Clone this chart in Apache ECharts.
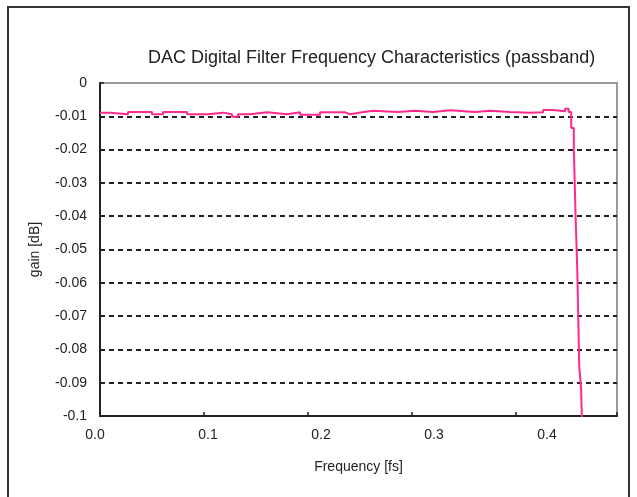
<!DOCTYPE html>
<html>
<head>
  <meta charset="UTF-8">
  <title>DAC Digital Filter Frequency Characteristics (passband)</title>
  <script src="https://cdn.jsdelivr.net/npm/echarts@6/dist/echarts.min.js"></script>
  <style>
    html, body { margin: 0; padding: 0; background: #fff; overflow: hidden; }
    #chart { width: 637px; height: 497px; }
  </style>
</head>
<body>
<div id="chart"></div>
<script>
  // passband staircase (step holds until next point)
  var freq = [0, 0.0096, 0.0269, 0.05, 0.0606, 0.0837, 0.1038, 0.1183, 0.1269, 0.1327,
    0.1442, 0.1606, 0.1798, 0.1923, 0.2115, 0.2356, 0.2404, 0.2519, 0.2625, 0.2865,
    0.3029, 0.3202, 0.3365, 0.3606, 0.375, 0.3942, 0.4135, 0.426, 0.4356, 0.4471,
    0.4505, 0.4530, 0.4555, 0.4572, 0.4588, 0.4607, 0.4625, 0.4640];
  var gain = [-0.0089, -0.0094, -0.0087, -0.0094, -0.0087, -0.0094, -0.0089, -0.0094, -0.0101, -0.0094,
    -0.0088, -0.0094, -0.0088, -0.0095, -0.0088, -0.0094, -0.0088, -0.0083, -0.0087, -0.0083,
    -0.0087, -0.0082, -0.0087, -0.0083, -0.0087, -0.0089, -0.0088, -0.0081, -0.0085, -0.0077,
    -0.0087, -0.0135, -0.0200, -0.0400, -0.0560, -0.0850, -0.0920, -0.1100];
  var xTicks = [0, 0.1, 0.2, 0.3, 0.4];

  var points = freq.map(function (f, i) { return [f, gain[i]]; });

  var myChart = echarts.init(document.getElementById('chart'));
  var font = 'Liberation Sans, Arial, sans-serif';

  var option = {
    backgroundColor: '#ffffff',
    animation: false,
    title: {
      text: 'DAC Digital Filter Frequency Characteristics (passband)',
      left: 143,
      top: 44,
      textStyle: { fontSize: 18, fontWeight: 'normal', color: '#222', fontFamily: font }
    },
    graphic: [{
      type: 'rect',
      shape: { x: 8, y: 7, width: 621, height: 510 },
      style: { fill: 'none', stroke: '#333', lineWidth: 2 },
      silent: true
    }],
    grid: [
      { left: 100, right: 20, top: 83, bottom: 81, show: true, borderColor: '#9a9a9a', borderWidth: 2 },
      // second grid only carries the shifted tick labels of the original
      { left: 95, right: 20, top: 83, bottom: 81, show: false }
    ],
    xAxis: [
      {
        type: 'value', gridIndex: 0, min: 0, max: 0.497, interval: 0.1,
        name: 'Frequency [fs]', nameLocation: 'middle', nameGap: 44,
        nameTextStyle: { fontSize: 14, color: '#222', fontFamily: font },
        axisLine: { onZero: false, lineStyle: { color: '#222', width: 2 } },
        axisTick: { inside: true, length: 4, lineStyle: { color: '#222', width: 1.5 } },
        axisLabel: { show: false },
        splitLine: { show: false }
      },
      {
        type: 'value', gridIndex: 1, min: 0, max: 0.462, interval: 0.1,
        axisLine: { show: false, onZero: false },
        axisTick: { show: false },
        splitLine: { show: false },
        axisLabel: {
          margin: 12, fontSize: 14, color: '#222', fontFamily: font,
          customValues: xTicks,
          formatter: function (v) { return v.toFixed(1); }
        }
      }
    ],
    yAxis: [
      {
        type: 'value', gridIndex: 0, min: -0.1, max: 0, interval: 0.01,
        name: 'gain [dB]', nameLocation: 'middle', nameGap: 58,
        nameTextStyle: { fontSize: 14, color: '#222', fontFamily: font },
        axisLine: { onZero: false, lineStyle: { color: '#222', width: 2 } },
        axisTick: { inside: true, length: 4, lineStyle: { color: '#222', width: 1.5 } },
        axisLabel: {
          margin: 13, fontSize: 14, color: '#222', fontFamily: font,
          formatter: function (v) { return String(Math.round(v * 100) / 100); }
        },
        splitLine: {
          show: true, showMinLine: false, showMaxLine: false,
          lineStyle: { color: '#222', type: [5, 4], width: 2 }
        }
      },
      { type: 'value', gridIndex: 1, show: false, min: -0.1, max: 0 }
    ],
    series: [{
      type: 'line',
      xAxisIndex: 0,
      yAxisIndex: 0,
      data: points,
      step: 'end',
      showSymbol: false,
      lineStyle: { color: '#ff2a8c', width: 2 },
      clip: true
    }]
  };

  myChart.setOption(option);
</script>
</body>
</html>
